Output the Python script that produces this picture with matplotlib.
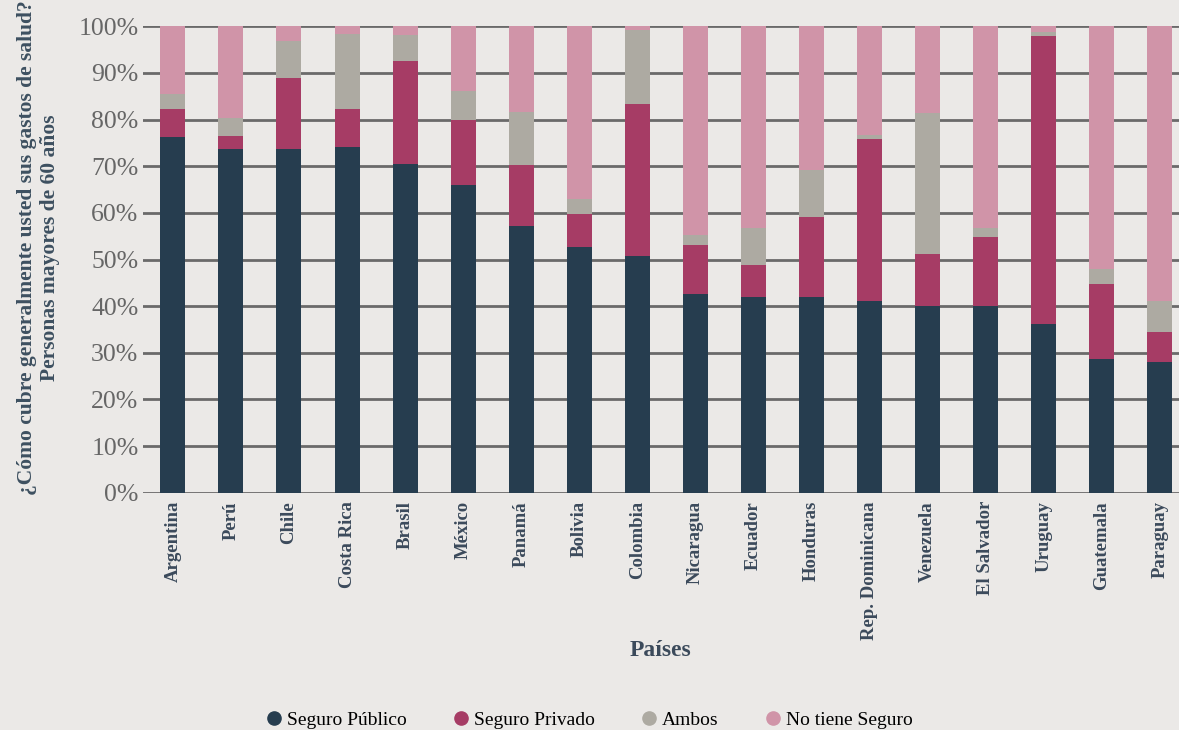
import numpy as np
import matplotlib.pyplot as plt
from matplotlib.lines import Line2D
from matplotlib.ticker import PercentFormatter

paises = ["Argentina", "Perú", "Chile", "Costa Rica", "Brasil", "México", "Panamá",
          "Bolivia", "Colombia", "Nicaragua", "Ecuador", "Honduras", "Rep. Dominicana",
          "Venezuela", "El Salvador", "Uruguay", "Guatemala", "Paraguay"]

# percentages per country
seguro_publico = [76.2, 73.7, 73.7, 74.1, 70.4, 66.0, 57.2, 52.7, 50.7,
                  42.6, 42.0, 42.0, 41.1, 40.0, 40.0, 36.2, 28.7, 28.1]
seguro_privado = [6.0, 2.7, 15.2, 8.1, 22.1, 13.9, 13.0, 7.0, 32.6,
                  10.5, 6.8, 17.1, 34.7, 11.2, 14.8, 61.7, 16.1, 6.4]
ambos = [3.2, 3.9, 7.9, 16.1, 5.6, 6.2, 11.4, 3.3, 15.8,
         2.1, 7.9, 10.1, 0.9, 30.2, 1.9, 0.8, 3.2, 6.6]
no_tiene = [100 - a - b - c for a, b, c in zip(seguro_publico, seguro_privado, ambos)]

series = [seguro_publico, seguro_privado, ambos, no_tiene]
nombres = ["Seguro Público", "Seguro Privado", "Ambos", "No tiene Seguro"]
colores = ["#263d4f", "#a63c65", "#adaaa2", "#d094a8"]

bg = "#ebe9e7"
plt.rcParams["font.family"] = ["Liberation Serif", "DejaVu Serif"]

fig = plt.figure(figsize=(11.79, 7.30), dpi=100, facecolor=bg)
ax = fig.add_axes([0.121, 0.325, 0.879, 0.639], facecolor=bg)

x = np.arange(len(paises))
bottom = np.zeros(len(paises))
for vals, nombre, color in zip(series, nombres, colores):
    ax.bar(x, vals, bottom=bottom, width=0.43, color=color, label=nombre, zorder=3)
    bottom += np.array(vals)

ax.set_ylim(0, 100)
ax.set_xlim(-0.52, 17.33)
ax.set_yticks(range(0, 101, 10))
ax.yaxis.set_major_formatter(PercentFormatter(decimals=0))
ax.grid(axis="y", color="#6a6a6a", linewidth=2, zorder=1)
for s in ax.spines.values():
    s.set_visible(False)
ax.tick_params(axis="y", length=0, labelsize=18.5, labelcolor="#666666", pad=3)
ax.tick_params(axis="x", length=0, pad=6)
ax.set_xticks(x)
ax.set_xticklabels(paises, rotation=90, fontsize=13.5, fontweight="bold", color="#3b4a5b")

ax.set_xlabel("Países", fontsize=17, fontweight="bold", color="#3b4a5b", labelpad=0)
ax.set_ylabel("¿Cómo cubre generalmente usted sus gastos de salud?\nPersonas mayores de 60 años",
              fontsize=15.5, fontweight="bold", color="#3d5060", linespacing=1.2)
ax.yaxis.set_label_coords(-0.080, 0.525)

handles = [Line2D([], [], marker="o", linestyle="", markersize=9.5, color=c) for c in colores]
fig.legend(handles, nombres, loc="lower center", bbox_to_anchor=(0.5, -0.022), ncol=4,
           frameon=False, fontsize=14, handlelength=0.8, handletextpad=0.25,
           columnspacing=2.4)

fig.savefig("out.png", dpi=100, facecolor=bg)
